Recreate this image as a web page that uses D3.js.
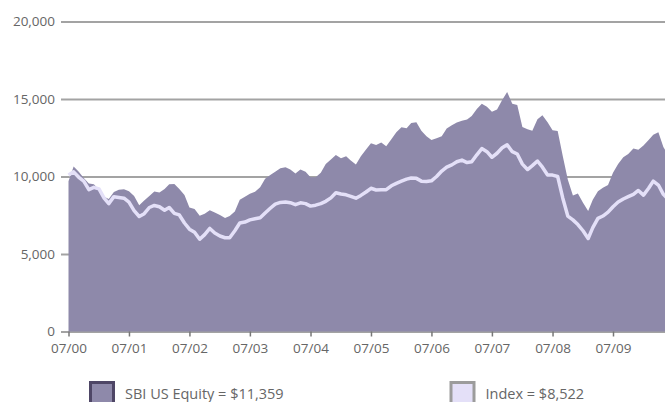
<!DOCTYPE html>
<meta charset="utf-8">
<style>
body { margin: 0; background: #fff; }
text { font-family: "Open Sans", sans-serif; fill: #666; }
.grid line { stroke: #a3a3a3; stroke-width: 2px; }
.axis--x line { stroke: #777; stroke-width: 1.5px; }
.area { fill: #8e89aa; }
.line { fill: none; stroke: #e4e0f8; stroke-width: 3.5px; stroke-linejoin: round; }
</style>
<body>
<script src="https://d3js.org/d3.v7.min.js"></script>
<script>

// monthly values, 07/2000 .. 06/2010
var startMonth = "2000-07";

var sbiValues = [
  9700, 10650, 10300, 9900, 9550, 9500, 9150, 8700, 8550, 9000, 9150, 9170,
  9050, 8750, 8150, 8450, 8750, 9030, 8970, 9200, 9500, 9520, 9200, 8800,
  8000, 7900, 7470, 7600, 7830, 7680, 7520, 7320, 7450, 7750, 8500, 8700,
  8880, 9020, 9300, 9850, 10100, 10300, 10530, 10600, 10450, 10200, 10450, 10300,
  9950, 9950, 10250, 10800, 11100, 11380, 11180, 11300, 11040, 10780, 11300, 11750,
  12140, 12030, 12200, 11950, 12400, 12850, 13180, 13120, 13450, 13500, 12950, 12600,
  12350, 12460, 12600, 13100, 13300, 13480, 13600, 13680, 13900, 14350, 14700, 14500,
  14180, 14330, 14930, 15450, 14700, 14620, 13200, 13050, 12950, 13700, 13950, 13500,
  12980, 12930, 11300, 9800, 8780, 8900, 8300, 7780, 8500, 9050, 9280, 9450,
  10250, 10800, 11250, 11450, 11800, 11720, 12000, 12350, 12700, 12850, 11900, 11359
];

var indexValues = [
  10100, 10300, 9950, 9700, 9150, 9300, 9200, 8600, 8250, 8700, 8650, 8600,
  8350, 7800, 7420, 7600, 8000, 8130, 8050, 7820, 8000, 7620, 7520, 7000,
  6600, 6400, 5950, 6250, 6650, 6350, 6160, 6050, 6050, 6500, 7000, 7060,
  7200, 7270, 7340, 7650, 7950, 8220, 8330, 8360, 8310, 8180, 8300, 8250,
  8090, 8150, 8250, 8400, 8620, 8950, 8870, 8820, 8720, 8600, 8780, 9000,
  9240, 9130, 9150, 9150, 9400, 9560, 9700, 9830, 9900, 9880, 9700, 9680,
  9720, 10000, 10350, 10600, 10750, 10950, 11060, 10900, 10950, 11400, 11800, 11600,
  11240, 11500, 11850, 12050, 11600, 11450, 10800, 10450, 10700, 11000, 10600, 10100,
  10090, 10000, 8600, 7450, 7200, 6900, 6500, 6000, 6700, 7300, 7450, 7700,
  8050, 8350, 8550, 8700, 8850, 9100, 8800, 9240, 9700, 9450, 8850, 8522
];

var yTicks = [0, 5000, 10000, 15000, 20000];
var xTickLabels = ["07/00", "07/01", "07/02", "07/03", "07/04", "07/05", "07/06", "07/07", "07/08", "07/09"];
var legendLabels = ["SBI US Equity = $11,359", "Index = $8,522"];

var width = 665, height = 402;

var parseMonth = d3.timeParse("%Y-%m");
var parseTick = d3.timeParse("%m/%y");
var t0 = parseMonth(startMonth);

var data = sbiValues.map(function(v, i) {
  return { date: d3.timeMonth.offset(t0, i), sbi: v, index: indexValues[i] };
});
var tickDates = xTickLabels.map(parseTick);

// scales
var x = d3.scaleTime()
    .domain([tickDates[0], tickDates[tickDates.length - 1]])
    .range([68.5, 613]);
var y = d3.scaleLinear()
    .domain([0, 20000])
    .range([331.5, 21.5]);

var svg = d3.select("body").append("svg")
    .attr("width", width)
    .attr("height", height);

// gridlines + y labels
svg.append("g")
    .attr("class", "grid")
    .attr("transform", "translate(61,0)")
    .call(d3.axisLeft(y).tickValues(yTicks).tickSize(-(width - 61)).tickPadding(6)
      .tickFormat(d3.format(",")))
    .call(function(g) { g.select(".domain").remove(); })
    .selectAll("text")
    .style("font-size", "13.5px");

// area
var area = d3.area()
    .x(function(d) { return x(d.date); })
    .y0(y(0))
    .y1(function(d) { return y(d.sbi); });

svg.append("path")
    .datum(data)
    .attr("class", "area")
    .attr("d", area);

// index line
var line = d3.line()
    .x(function(d) { return x(d.date); })
    .y(function(d) { return y(d.index); });

svg.append("path")
    .datum(data)
    .attr("class", "line")
    .attr("d", line);

// x axis
svg.append("g")
    .attr("class", "axis axis--x")
    .attr("transform", "translate(0," + y(0) + ")")
    .call(d3.axisBottom(x).tickValues(tickDates).tickSize(5).tickPadding(7)
      .tickFormat(d3.timeFormat("%m/%y")))
    .call(function(g) { g.select(".domain").remove(); })
    .selectAll("text")
    .style("font-size", "13.5px");

// legend
var legend = [
  { label: legendLabels[0], x: 90.5, fill: "#8e89aa", stroke: "#4e4666" },
  { label: legendLabels[1], x: 451, fill: "#e4e0f8", stroke: "#9c9c9c" }
];

var lg = svg.append("g").selectAll("g")
    .data(legend)
  .enter().append("g")
    .attr("transform", function(d) { return "translate(" + d.x + ",382.5)"; });

lg.append("rect")
    .attr("width", 23)
    .attr("height", 24)
    .style("fill", function(d) { return d.fill; })
    .style("stroke", function(d) { return d.stroke; })
    .style("stroke-width", 3);

lg.append("text")
    .attr("x", 34.5)
    .attr("y", 16)
    .style("font-size", "14.5px")
    .text(function(d) { return d.label; });

</script>
</body>
